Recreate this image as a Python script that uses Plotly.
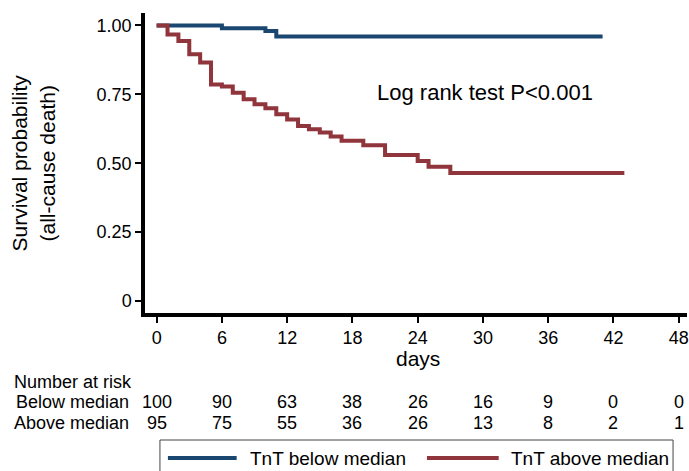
import plotly.graph_objects as go

# ---- data ----
below_days = [0, 6, 10, 11, 41]
below_surv = [1.00, 0.99, 0.98, 0.96, 0.96]

above_days = [0, 1, 2, 3, 4, 5, 6, 7, 8, 9, 10, 11, 12, 13, 14, 15, 16, 17, 19, 21, 24, 25, 27, 43]
above_surv = [1.00, 0.967, 0.943, 0.895, 0.865, 0.786, 0.778, 0.756, 0.732, 0.714, 0.699, 0.678,
              0.659, 0.635, 0.623, 0.611, 0.597, 0.581, 0.565, 0.530, 0.508, 0.487, 0.464, 0.464]

tick_days = [0, 6, 12, 18, 24, 30, 36, 42, 48]
y_ticks = [0, 0.25, 0.5, 0.75, 1.0]
y_tick_labels = ["0", "0.25", "0.50", "0.75", "1.00"]
risk_below = [100, 90, 63, 38, 26, 16, 9, 0, 0]
risk_above = [95, 75, 55, 36, 26, 13, 8, 2, 1]

BLUE = "#1a476f"
RED = "#90353b"
FONT = "Arial, Liberation Sans, sans-serif"

W, H = 689, 471
# plot area in screen pixels (body margin removed via post_script)
PL, PR, PT, PB = 145, 689, 13, 313
ML, MT = PL, PT
MR = W - PR
MB = H - PB
PW = PR - PL
PH = PB - PT


def px_x(x):
    return (x - PL) / PW


def px_y(y):
    return (PB - y) / PH


fig = go.Figure()
fig.add_trace(go.Scatter(x=below_days, y=below_surv, mode="lines", line_shape="hv",
                         line=dict(color=BLUE, width=4), name="TnT below median", showlegend=False))
fig.add_trace(go.Scatter(x=above_days, y=above_surv, mode="lines", line_shape="hv",
                         line=dict(color=RED, width=4), name="TnT above median", showlegend=False))

fig.update_xaxes(range=[-1.07, 48.76], tickmode="array", tickvals=tick_days,
                 ticks="outside", ticklen=6, tickwidth=1.5, tickcolor="black",
                 showline=True, linecolor="black", linewidth=3.5, showgrid=False, zeroline=False,
                 ticklabeloverflow="allow",
                 tickfont=dict(family=FONT, size=18, color="black"))
fig.update_yaxes(range=[-0.0436, 1.045], tickmode="array", tickvals=y_ticks, ticktext=y_tick_labels,
                 ticks="outside", ticklen=6, tickwidth=1.5, tickcolor="black",
                 showline=True, linecolor="black", linewidth=3.5, showgrid=False, zeroline=False,
                 tickfont=dict(family=FONT, size=18, color="black"))


def txt(x, y, s, size=18, xref="paper", xanchor="center", **kw):
    return dict(x=x, y=y, xref=xref, yref="paper", text=s, showarrow=False,
                xanchor=xanchor, yanchor="middle",
                font=dict(family=FONT, size=size, color="black"), **kw)


ann = []
ann.append(dict(x=30.2, y=0.755, xref="x", yref="y", text="Log rank test P<0.001", showarrow=False,
                xanchor="center", yanchor="middle", font=dict(family=FONT, size=22, color="black")))
ann.append(txt(px_x(33), px_y(163), "Survival probability<br>(all-cause death)", size=21, textangle=-90))
ann.append(txt(24, px_y(358), "days", size=21, xref="x"))
ann.append(txt(px_x(12), px_y(382), "Number at risk", xanchor="left"))
ann.append(txt(px_x(131), px_y(402), "Below median", xanchor="right"))
ann.append(txt(px_x(131), px_y(423), "Above median", xanchor="right"))
for d, b, a in zip(tick_days, risk_below, risk_above):
    ann.append(txt(d, px_y(402), str(b), xref="x"))
    ann.append(txt(d, px_y(423), str(a), xref="x"))

# legend (Stata-style box below the risk table)
ann.append(txt(px_x(248), px_y(458), "TnT below median", size=19, xanchor="left"))
ann.append(txt(px_x(510), px_y(458), "TnT above median", size=19, xanchor="left"))

shapes = [
    dict(type="rect", xref="paper", yref="paper", x0=px_x(160), x1=px_x(675), y0=px_y(440), y1=px_y(495),
         line=dict(color="#444444", width=1), fillcolor="rgba(0,0,0,0)"),
    dict(type="line", xref="paper", yref="paper", x0=px_x(168), x1=px_x(237), y0=px_y(458), y1=px_y(458),
         line=dict(color=BLUE, width=4)),
    dict(type="line", xref="paper", yref="paper", x0=px_x(428), x1=px_x(500), y0=px_y(458), y1=px_y(458),
         line=dict(color=RED, width=4)),
]

fig.update_layout(width=W, height=H, margin=dict(l=ML, r=MR, t=MT, b=MB),
                  plot_bgcolor="white", paper_bgcolor="white",
                  annotations=ann, shapes=shapes, showlegend=False,
                  font=dict(family=FONT, color="black"))

fig.write_html("out.html", config={"displayModeBar": False},
               post_script="document.body.style.margin='0';document.body.style.overflow='hidden';")
